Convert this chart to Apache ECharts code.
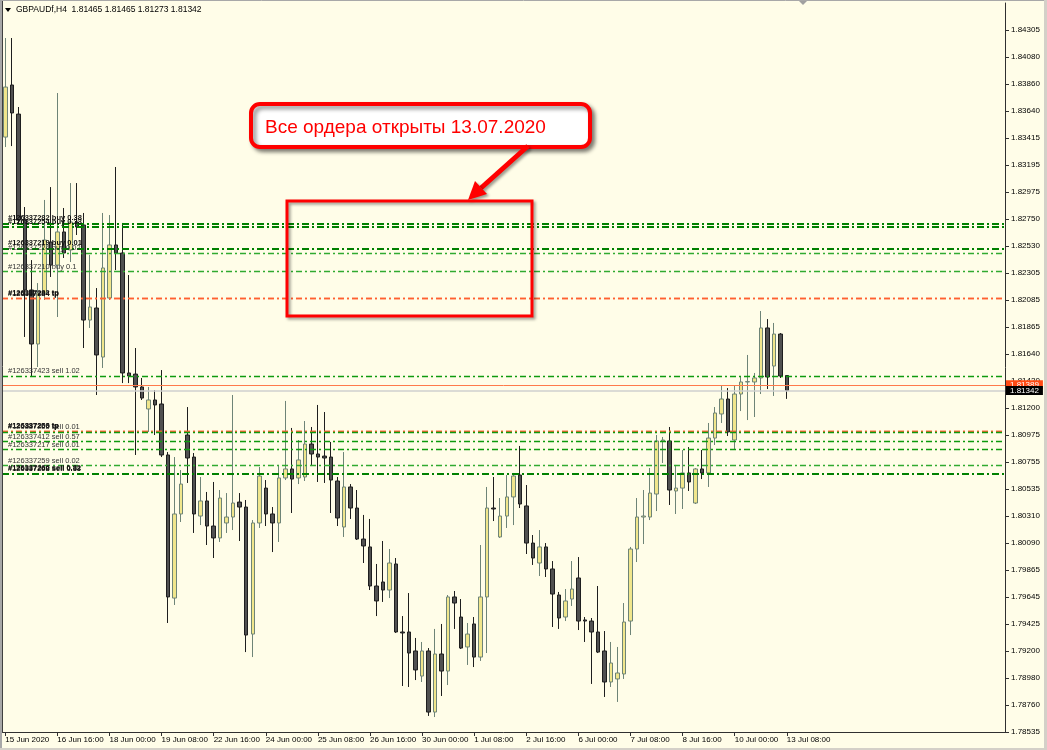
<!DOCTYPE html>
<html>
<head>
<meta charset="utf-8">
<script src="https://cdn.jsdelivr.net/npm/echarts@6/dist/echarts.min.js"></script>
<style>
html,body{margin:0;padding:0;background:#FFFDE8;}
#chart{width:1047px;height:750px;}
</style>
</head>
<body>
<div id="chart"></div>
<script>
// ---- DATA ----
const days = ['15 Jun','16 Jun','17 Jun','18 Jun','19 Jun','22 Jun','23 Jun','24 Jun','25 Jun','26 Jun',
  '29 Jun','30 Jun','1 Jul','2 Jul','3 Jul','6 Jul','7 Jul','8 Jul','9 Jul','10 Jul','13 Jul'];
const hours = ['00:00','04:00','08:00','12:00','16:00','20:00'];
const firstBar = 2;      // 15 Jun 08:00
const lastBar = 122;     // 13 Jul 08:00
const firstTickLabel = '15 Jun 2020';

const opens = [1.83425,1.83853,1.83614,1.82743,1.82168,1.81724,1.82143,1.82562,1.82373,1.82645,
1.82497,1.82727,1.82702,1.81921,1.82020,1.81617,1.82102,1.82538,1.82472,1.81486,
1.81477,1.81371,1.81190,1.81264,1.81231,1.80812,1.79636,1.80327,1.80976,1.80795,
1.80310,1.80434,1.80228,1.80130,1.80253,1.80302,1.80425,1.80384,1.79340,1.80253,
1.80540,1.80327,1.80253,1.80623,1.80697,1.80623,1.80631,1.80902,1.80820,1.80803,
1.80795,1.80598,1.80220,1.80549,1.80376,1.80121,1.80056,1.79735,1.79768,1.79702,
1.79916,1.79357,1.79357,1.79201,1.78995,1.79201,1.78699,1.79176,1.79036,1.79645,
1.79480,1.79234,1.79423,1.79151,1.79645,1.80376,1.80138,1.80310,1.80467,1.80647,
1.80393,1.80088,1.79924,1.80056,1.79875,1.79661,1.79480,1.79628,1.79801,1.79456,
1.79447,1.79357,1.79201,1.78946,1.78971,1.79012,1.79447,1.80039,1.80302,1.80302,
1.80491,1.80927,1.80927,1.80516,1.80540,1.80664,1.80417,1.80697,1.80664,1.80951,
1.81149,1.81272,1.80935,1.81313,1.81412,1.81412,1.81445,1.81856,1.81543,1.81806,
1.81465];
const highs = [1.84239,1.84239,1.83672,1.82850,1.82414,1.82225,1.82908,1.83014,1.83787,1.82842,
1.83047,1.83047,1.82801,1.82456,1.82184,1.82801,1.82784,1.83179,1.82719,1.82291,
1.81691,1.81445,1.81371,1.81346,1.81510,1.80836,1.80795,1.80688,1.81206,1.80828,
1.80631,1.80508,1.80590,1.80524,1.80499,1.81305,1.80499,1.80442,1.80277,1.80713,
1.80606,1.80384,1.80730,1.81256,1.81034,1.80935,1.81091,1.81042,1.81223,1.81165,
1.80919,1.80631,1.80836,1.80573,1.80524,1.80319,1.80286,1.79916,1.80105,1.80039,
1.79965,1.79488,1.79677,1.79308,1.79275,1.79225,1.79382,1.79423,1.79661,1.79694,
1.79628,1.79431,1.79480,1.80072,1.80549,1.80631,1.80458,1.80647,1.80664,1.80886,
1.80565,1.80154,1.80195,1.80088,1.79940,1.79686,1.79710,1.79940,1.79973,1.79480,
1.79472,1.79735,1.79365,1.79275,1.79234,1.79595,1.80056,1.80458,1.80524,1.80705,
1.80976,1.80960,1.81042,1.80730,1.80853,1.80877,1.80705,1.80853,1.81075,1.81206,
1.81387,1.81362,1.81387,1.81461,1.81634,1.81486,1.81995,1.81929,1.81897,1.81814,
1.81465];
const lows = [1.83343,1.83351,1.82702,1.81782,1.81453,1.81535,1.82086,1.82275,1.81946,1.82431,
1.82398,1.82620,1.81691,1.81856,1.81305,1.81527,1.82086,1.82332,1.81403,1.81403,
1.80812,1.81264,1.81001,1.80976,1.80795,1.79431,1.79579,1.80261,1.80582,1.80171,
1.80236,1.80072,1.79965,1.80097,1.80171,1.80195,1.80105,1.79192,1.79151,1.80212,
1.80228,1.80014,1.80097,1.80606,1.80335,1.80573,1.80598,1.80721,1.80590,1.80582,
1.80335,1.80228,1.80138,1.80286,1.80113,1.79924,1.79702,1.79488,1.79604,1.79636,
1.79349,1.78913,1.78905,1.78962,1.78946,1.78667,1.78658,1.78831,1.78921,1.79382,
1.79217,1.79086,1.79069,1.79119,1.79184,1.80269,1.80130,1.80212,1.80236,1.80376,
1.79998,1.79908,1.79817,1.79809,1.79398,1.79382,1.79447,1.79571,1.79373,1.79275,
1.78930,1.79184,1.78823,1.78905,1.78782,1.78971,1.79332,1.79932,1.80080,1.80277,
1.80351,1.80746,1.80401,1.80327,1.80368,1.80516,1.80409,1.80614,1.80549,1.80894,
1.81075,1.80968,1.80861,1.81173,1.81099,1.81124,1.81313,1.81354,1.81297,1.81445,
1.81273];
const closes = [1.83836,1.83623,1.82743,1.82168,1.81724,1.82143,1.82579,1.82373,1.82645,1.82472,
1.82727,1.82686,1.81921,1.82028,1.81634,1.82349,1.82538,1.82472,1.81486,1.81461,
1.81371,1.81280,1.81264,1.81223,1.80812,1.79645,1.80327,1.80573,1.80787,1.80327,
1.80434,1.80228,1.80130,1.80458,1.80302,1.80417,1.80384,1.79332,1.80253,1.80639,
1.80327,1.80253,1.80623,1.80697,1.80614,1.80771,1.80902,1.80820,1.80795,1.80787,
1.80606,1.80294,1.80549,1.80376,1.80121,1.80064,1.79735,1.79612,1.79702,1.79924,
1.79357,1.79349,1.79184,1.79045,1.79201,1.78699,1.79176,1.79036,1.79645,1.79595,
1.79225,1.79340,1.79151,1.79645,1.80376,1.80368,1.80310,1.80467,1.80639,1.80409,
1.80088,1.79965,1.80056,1.79875,1.79669,1.79472,1.79612,1.79710,1.79447,1.79447,
1.79357,1.79192,1.78946,1.79102,1.79020,1.79439,1.80039,1.80302,1.80310,1.80499,
1.80927,1.80935,1.80524,1.80540,1.80664,1.80590,1.80697,1.80664,1.80951,1.81157,
1.81272,1.81001,1.81313,1.81412,1.81415,1.81445,1.81856,1.81453,1.81806,1.81461,
1.81342];

const yTickLabels = ['1.78535','1.78760','1.78980','1.79200','1.79425','1.79645','1.79865','1.80090',
'1.80310','1.80535','1.80755','1.80975','1.81200','1.81420','1.81640','1.81865','1.82085','1.82305',
'1.82530','1.82750','1.82975','1.83195','1.83415','1.83640','1.83860','1.84080','1.84305'];
const yMin = 1.78535, yTop = 1.84305;

const orderPrices = [1.82716,1.82688,1.82511,1.82469,1.82318,1.82100,1.82097,1.81461,1.81011,1.81008,1.80998,1.80921,1.80857,1.80725,1.80661,1.80655];
const orderLabels = ['#126337282 buy 0.38','#126337254 buy 0.33','#126337219 buy 0.01','#126337224 buy 0.02',
'#126337210 buy 0.1','#126337282 tp','#126337284 tp','#126337423 sell 1.02','#126337259 tp','#126337266 tp',
'#126337255 sell 0.01','#126337412 sell 0.57','#126337217 sell 0.01','#126337259 sell 0.02',
'#126337266 sell 0.82','#126337268 sell 0.33'];
const orderKinds = ['thick','thick','thick','light','light','tp','tp','mid','tp','tp','mid','mid','mid','light','thick','thick'];

const bidPrice = 1.81342;
const alertPrice = 1.81389;
const headerText = 'GBPAUDf,H4  1.81465 1.81465 1.81273 1.81342';
const calloutText = 'Все ордера открыты 13.07.2020';

// ---- BUILD ----
const allBars = [];
days.forEach(d => hours.forEach(h => allBars.push(d + ' ' + h)));
const categories = allBars.slice(firstBar, lastBar + 1);
const padCount = 33;
const xData = categories.concat(new Array(padCount).fill(''));
const candleData = opens.map((o, i) => [o, closes[i], lows[i], highs[i]]);

const yInterval = (yTop - yMin) / (yTickLabels.length - 1);
const yMax = yMin + yInterval * yTickLabels.length;

const styles = {
  thick: {color: '#008000', width: 2, type: [7, 3, 2, 3]},
  mid:   {color: '#0E9A0E', width: 1.4, type: [6, 3, 2, 3]},
  light: {color: '#30AA30', width: 1.3, type: [6, 3, 2, 3]},
  tp:    {color: '#FF6030', width: 1.3, type: [6, 3, 2, 3]}
};
const orderLines = orderPrices.map((p, i) => {
  const k = orderKinds[i];
  const bold = (k === 'thick' || k === 'tp');
  return {
    yAxis: p,
    lineStyle: styles[k],
    label: {
      show: true, position: 'insideStartTop', distance: [6, 1],
      formatter: orderLabels[i],
      fontFamily: 'Liberation Sans', fontSize: 7.5,
      fontWeight: bold ? 'bold' : 'normal',
      color: bold ? '#111' : '#333'
    }
  };
});

const tickFn = (idx) => idx % 8 === 0 && idx <= lastBar - firstBar;

const chart = echarts.init(document.getElementById('chart'), null, {renderer: 'canvas'});
chart.setOption({
  animation: false,
  backgroundColor: '#FFFDE8',
  grid: {left: 2, right: 42, top: 3, bottom: 18, containLabel: false},
  xAxis: {
    type: 'category', data: xData, boundaryGap: true,
    axisLine: {show: true, lineStyle: {color: '#303030', width: 1}},
    axisTick: {show: true, interval: tickFn, alignWithLabel: true, length: 4, lineStyle: {color: '#303030'}},
    axisLabel: {
      interval: tickFn, align: 'left', margin: 4,
      fontFamily: 'Liberation Sans', fontSize: 8, color: '#000',
      formatter: (v, idx) => idx === 0 ? firstTickLabel : v
    },
    splitLine: {show: false}
  },
  yAxis: {
    type: 'value', position: 'right', scale: true,
    min: yMin, max: yMax, interval: yInterval,
    axisLine: {show: true, lineStyle: {color: '#303030', width: 1}},
    axisTick: {show: true, length: 4, lineStyle: {color: '#303030'}},
    axisLabel: {
      margin: 6, fontFamily: 'Liberation Sans', fontSize: 8, color: '#000',
      formatter: (v, idx) => yTickLabels[idx] !== undefined ? yTickLabels[idx] : '',
      showMaxLabel: false
    },
    splitLine: {show: false}
  },
  series: [
    {
      type: 'line', data: [], z: 1, silent: true,
      markLine: {silent: true, precision: 5, symbol: ['none', 'none'], animation: false, data: orderLines}
    },
    {
      type: 'candlestick', data: candleData, z: 2, barWidth: 4,
      itemStyle: {
        color: '#F0E68C', color0: '#505050',
        borderColor: '#6E8477', borderColor0: '#1E1E1E', borderWidth: 1
      }
    },
    {
      type: 'line', data: [], z: 5, silent: true,
      markLine: {
        silent: true, precision: 5, symbol: ['none', 'none'], animation: false,
        data: [
          {yAxis: alertPrice, lineStyle: {color: '#FF7A4A', width: 1, type: 'solid'},
           label: {show: true, position: 'end', distance: 1, formatter: '1.81389', backgroundColor: '#FF4A14',
                   color: '#FFFFFF', padding: [1, 4, 0, 4], fontFamily: 'Liberation Sans', fontSize: 8}},
          {yAxis: bidPrice, lineStyle: {color: '#CFCFCF', width: 1.5, type: 'solid'},
           label: {show: true, position: 'end', distance: 1, formatter: '1.81342', backgroundColor: '#000000',
                   color: '#FFFFFF', padding: [1, 4, 0, 4], fontFamily: 'Liberation Sans', fontSize: 8}}
        ]
      }
    }
  ],
  graphic: [
    {type: 'rect', shape: {x: 0, y: 0, width: 2, height: 750}, style: {fill: '#A8A8A8'}, z: 100},
    {type: 'line', shape: {x1: 2.5, y1: 0, x2: 2.5, y2: 733}, style: {stroke: '#404040', lineWidth: 1}, z: 100},
    {type: 'line', shape: {x1: 0, y1: 0.5, x2: 1047, y2: 0.5}, style: {stroke: '#A8A8A8', lineWidth: 1}, z: 100},
    {type: 'rect', shape: {x: 1044, y: 0, width: 3, height: 750}, style: {fill: '#D4D0C8'}, z: 100},
    {type: 'rect', shape: {x: 0, y: 748, width: 1047, height: 2}, style: {fill: '#D4D0C8'}, z: 100},
    {type: 'polygon', shape: {points: [[5, 8], [11, 8], [8, 12]]}, style: {fill: '#000'}, z: 100},
    {type: 'text', x: 16, y: 10, style: {text: headerText, fontFamily: 'Liberation Sans', fontSize: 8.5, fill: '#000', textVerticalAlign: 'middle'}, z: 100},
    {type: 'polygon', shape: {points: [[799, 1], [807, 1], [803, 5]]}, style: {fill: '#A0A0A0'}, z: 100},
    // callout
    {type: 'rect', shape: {x: 251, y: 104, width: 339, height: 43, r: 9},
     style: {fill: '#FFFFFF', stroke: '#FF0000', lineWidth: 4, shadowBlur: 4, shadowOffsetX: 3, shadowOffsetY: 3, shadowColor: 'rgba(0,0,0,0.45)'}, z: 110},
    {type: 'text', x: 265, y: 128, style: {text: calloutText, fontFamily: 'Liberation Sans', fontSize: 19, fill: '#FF0000', textVerticalAlign: 'middle'}, z: 111},
    {type: 'line', shape: {x1: 528, y1: 146, x2: 481, y2: 188},
     style: {stroke: '#FF0000', lineWidth: 5, shadowBlur: 3, shadowOffsetX: 2, shadowOffsetY: 2, shadowColor: 'rgba(0,0,0,0.4)'}, z: 110},
    {type: 'polygon', shape: {points: [[468, 200], [487, 194], [475, 181]]},
     style: {fill: '#FF0000', shadowBlur: 3, shadowOffsetX: 2, shadowOffsetY: 2, shadowColor: 'rgba(0,0,0,0.4)'}, z: 110},
    {type: 'rect', shape: {x: 287, y: 201, width: 245, height: 115},
     style: {fill: 'none', stroke: '#FF0000', lineWidth: 3, shadowBlur: 3, shadowOffsetX: 2, shadowOffsetY: 2, shadowColor: 'rgba(0,0,0,0.4)'}, z: 110}
  ]
});
</script>
</body>
</html>
